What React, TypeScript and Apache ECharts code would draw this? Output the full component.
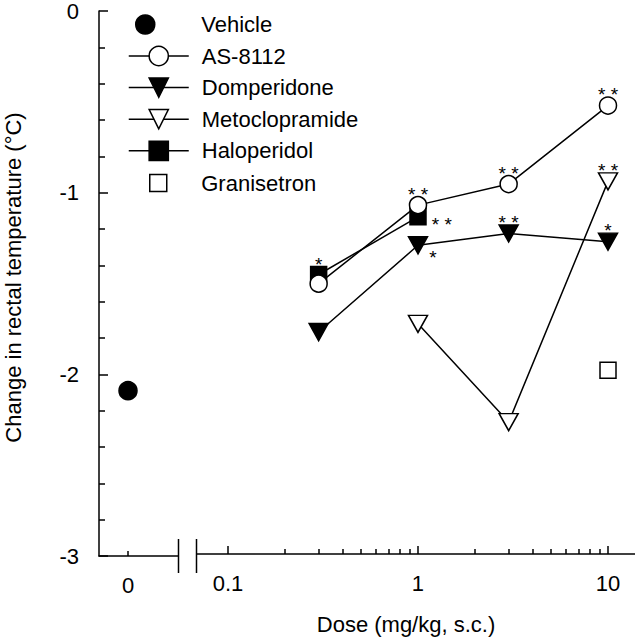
import { useEffect, useRef } from "react";
import * as echarts from "echarts";

// ---- data ----
const vehicleDoses = [0];
const vehicleValues = [-2.09];

const as8112Doses = [0.3, 1, 3, 10];
const as8112Values = [-1.52, -1.09, -0.975, -0.545];
const as8112Sig = ["", "**", "**", "**"];

const domperidoneDoses = [0.3, 1, 3, 10];
const domperidoneValues = [-1.785, -1.31, -1.245, -1.29];
const domperidoneSig = ["", "*", "**", "*"];

const metoclopramideDoses = [1, 3, 10];
const metoclopramideValues = [-1.74, -2.278, -0.96];
const metoclopramideSig = ["", "", "**"];

const haloperidolDoses = [0.3, 1];
const haloperidolValues = [-1.47, -1.154];
const haloperidolSig = ["*", "**"];

const granisetronDoses = [10];
const granisetronValues = [-1.994];

const vehicleTicks = [0];
const logMajorTicks = [0.1, 1, 10];
const logMinorTicks = [0.2, 0.3, 0.4, 0.5, 0.6, 0.7, 0.8, 0.9, 2, 3, 4, 5, 6, 7, 8, 9];

const FONT = '"Liberation Sans", Arial, Helvetica, sans-serif';
const BLACK = "#000";

const topLabel = { position: "top", distance: 0, offset: [0, 8] };
const rightLabel = { position: "right", distance: 5, offset: [0, 7.5] };
const rightLowLabel = { position: "right", distance: 1, offset: [0, 12.5] };

function points(
  doses: number[],
  values: number[],
  sig?: string[],
  place?: (i: number) => any
) {
  return doses.map((d, i) => {
    const s = sig ? sig[i] : "";
    const item: any = { value: [d, values[i]] };
    if (s) {
      item.label = {
        show: true,
        formatter: s.split("").join(" "),
        fontSize: 19,
        fontFamily: FONT,
        color: BLACK,
        ...(place ? place(i) : topLabel),
      };
    }
    return item;
  });
}

export default function App() {
  const ref = useRef<HTMLDivElement>(null);

  useEffect(() => {
    if (!ref.current) return;
    const chart = echarts.init(ref.current, null, { renderer: "svg" });

    const lineStyle = { color: BLACK, width: 1.5 };
    const openItem = { color: "#fff", borderColor: BLACK, borderWidth: 1.5, opacity: 1 };
    const filledItem = { color: BLACK, borderColor: BLACK, borderWidth: 1.5, opacity: 1 };
    const legendText = (padLeft: number) => ({
      fontSize: 22,
      fontFamily: FONT,
      color: BLACK,
      lineHeight: 16,
      padding: [0, 0, 0, padLeft],
    });
    const legendCommon = {
      orient: "vertical",
      itemWidth: 60,
      padding: 0,
      selectedMode: false,
      itemStyle: { borderWidth: 1.5, opacity: 1 },
      lineStyle: { width: 1.5 },
    };

    const logMin = 0.0687;
    const logMax = 13.87;

    chart.setOption({
      animation: false,
      backgroundColor: "#fff",
      textStyle: { fontFamily: FONT },
      grid: [
        { left: 99, top: 6, width: 79, height: 550 },
        { left: 197, top: 6, width: 438, height: 550 },
      ],
      legend: [
        {
          ...legendCommon,
          left: 135,
          top: 13.5,
          itemHeight: 19,
          textStyle: legendText(21),
          data: ["Vehicle"],
        },
        {
          ...legendCommon,
          left: 128,
          top: 45,
          itemHeight: 24,
          itemGap: 9.6,
          textStyle: legendText(8),
          data: ["AS-8112", "Domperidone", "Metoclopramide", "Haloperidol"],
        },
        {
          ...legendCommon,
          left: 149,
          top: 172,
          itemHeight: 17,
          textStyle: legendText(8),
          data: [{ name: "Granisetron", icon: "path://M0 0H10V10H0Z" }],
        },
      ],
      xAxis: [
        {
          type: "value",
          gridIndex: 0,
          position: "bottom",
          min: -29,
          max: 50,
          axisLine: { onZero: false, lineStyle: { color: BLACK, width: 1.5 } },
          axisTick: {
            inside: true,
            length: 5,
            customValues: vehicleTicks,
            lineStyle: { color: BLACK, width: 1.5 },
          },
          axisLabel: {
            customValues: vehicleTicks,
            formatter: (v: number) => String(v),
            fontSize: 22,
            fontFamily: FONT,
            color: BLACK,
            margin: 18,
          },
          splitLine: { show: false },
        },
        {
          type: "log",
          gridIndex: 1,
          position: "bottom",
          min: logMin,
          max: logMax,
          name: "Dose (mg/kg, s.c.)",
          nameLocation: "middle",
          nameGap: 59,
          nameTextStyle: {
            fontSize: 22,
            fontFamily: FONT,
            color: BLACK,
            padding: [0, 20, 0, 0],
          },
          axisLine: { onZero: false, lineStyle: { color: BLACK, width: 1.5 } },
          axisTick: {
            inside: true,
            length: 8,
            customValues: logMajorTicks,
            lineStyle: { color: BLACK, width: 1.5 },
          },
          axisLabel: {
            customValues: logMajorTicks,
            formatter: (v: number) => String(v),
            fontSize: 22,
            fontFamily: FONT,
            color: BLACK,
            margin: 18,
          },
          splitLine: { show: false },
        },
        {
          type: "log",
          gridIndex: 1,
          position: "bottom",
          min: logMin,
          max: logMax,
          axisLine: { show: false, onZero: false },
          axisTick: {
            inside: true,
            length: 5,
            customValues: logMinorTicks,
            lineStyle: { color: BLACK, width: 1.5 },
          },
          axisLabel: { show: false },
          splitLine: { show: false },
        },
      ],
      yAxis: [
        {
          type: "value",
          gridIndex: 0,
          position: "left",
          min: -3,
          max: 0,
          interval: 1,
          name: "Change in rectal temperature (°C)",
          nameLocation: "middle",
          nameGap: 75,
          nameTextStyle: {
            fontSize: 22,
            fontFamily: FONT,
            color: BLACK,
            padding: [0, 0, 0, 12],
          },
          axisLine: { onZero: false, lineStyle: { color: BLACK, width: 1.5 } },
          axisTick: { inside: true, length: 9, lineStyle: { color: BLACK, width: 1.5 } },
          minorTick: {
            show: true,
            splitNumber: 5,
            length: 6,
            lineStyle: { color: BLACK, width: 1.5 },
          },
          axisLabel: { fontSize: 22, fontFamily: FONT, color: BLACK, margin: 20 },
          splitLine: { show: false },
        },
        {
          type: "value",
          gridIndex: 1,
          position: "left",
          min: -3,
          max: 0,
          show: false,
          axisLine: { onZero: false },
          splitLine: { show: false },
        },
      ],
      graphic: [
        {
          type: "line",
          shape: { x1: 178.5, y1: 539, x2: 178.5, y2: 573 },
          style: { stroke: BLACK, lineWidth: 1.5 },
        },
        {
          type: "line",
          shape: { x1: 196.5, y1: 539, x2: 196.5, y2: 573 },
          style: { stroke: BLACK, lineWidth: 1.5 },
        },
      ],
      series: [
        {
          name: "Vehicle",
          type: "scatter",
          xAxisIndex: 0,
          yAxisIndex: 0,
          symbol: "circle",
          symbolSize: 18,
          itemStyle: filledItem,
          data: points(vehicleDoses, vehicleValues),
        },
        {
          name: "Haloperidol",
          type: "line",
          xAxisIndex: 1,
          yAxisIndex: 1,
          symbol: "rect",
          symbolSize: 16,
          lineStyle,
          itemStyle: filledItem,
          data: points(haloperidolDoses, haloperidolValues, haloperidolSig, (i) =>
            i === 1 ? rightLabel : topLabel
          ),
        },
        {
          name: "Domperidone",
          type: "line",
          xAxisIndex: 1,
          yAxisIndex: 1,
          symbol: "triangle",
          symbolRotate: 180,
          symbolSize: [19, 17],
          lineStyle,
          itemStyle: filledItem,
          data: points(domperidoneDoses, domperidoneValues, domperidoneSig, (i) =>
            i === 1 ? rightLowLabel : topLabel
          ),
        },
        {
          name: "Metoclopramide",
          type: "line",
          xAxisIndex: 1,
          yAxisIndex: 1,
          symbol: "triangle",
          symbolRotate: 180,
          symbolSize: [19, 17],
          lineStyle,
          itemStyle: openItem,
          data: points(metoclopramideDoses, metoclopramideValues, metoclopramideSig),
        },
        {
          name: "AS-8112",
          type: "line",
          xAxisIndex: 1,
          yAxisIndex: 1,
          symbol: "circle",
          symbolSize: 17,
          lineStyle,
          itemStyle: openItem,
          data: points(as8112Doses, as8112Values, as8112Sig),
        },
        {
          name: "Granisetron",
          type: "scatter",
          xAxisIndex: 1,
          yAxisIndex: 1,
          symbol: "rect",
          symbolSize: 16,
          itemStyle: openItem,
          data: points(granisetronDoses, granisetronValues),
        },
      ],
    });

    return () => chart.dispose();
  }, []);

  return (
    <div
      ref={ref}
      style={{ position: "absolute", left: 0, top: 0, width: 635, height: 640 }}
    />
  );
}
